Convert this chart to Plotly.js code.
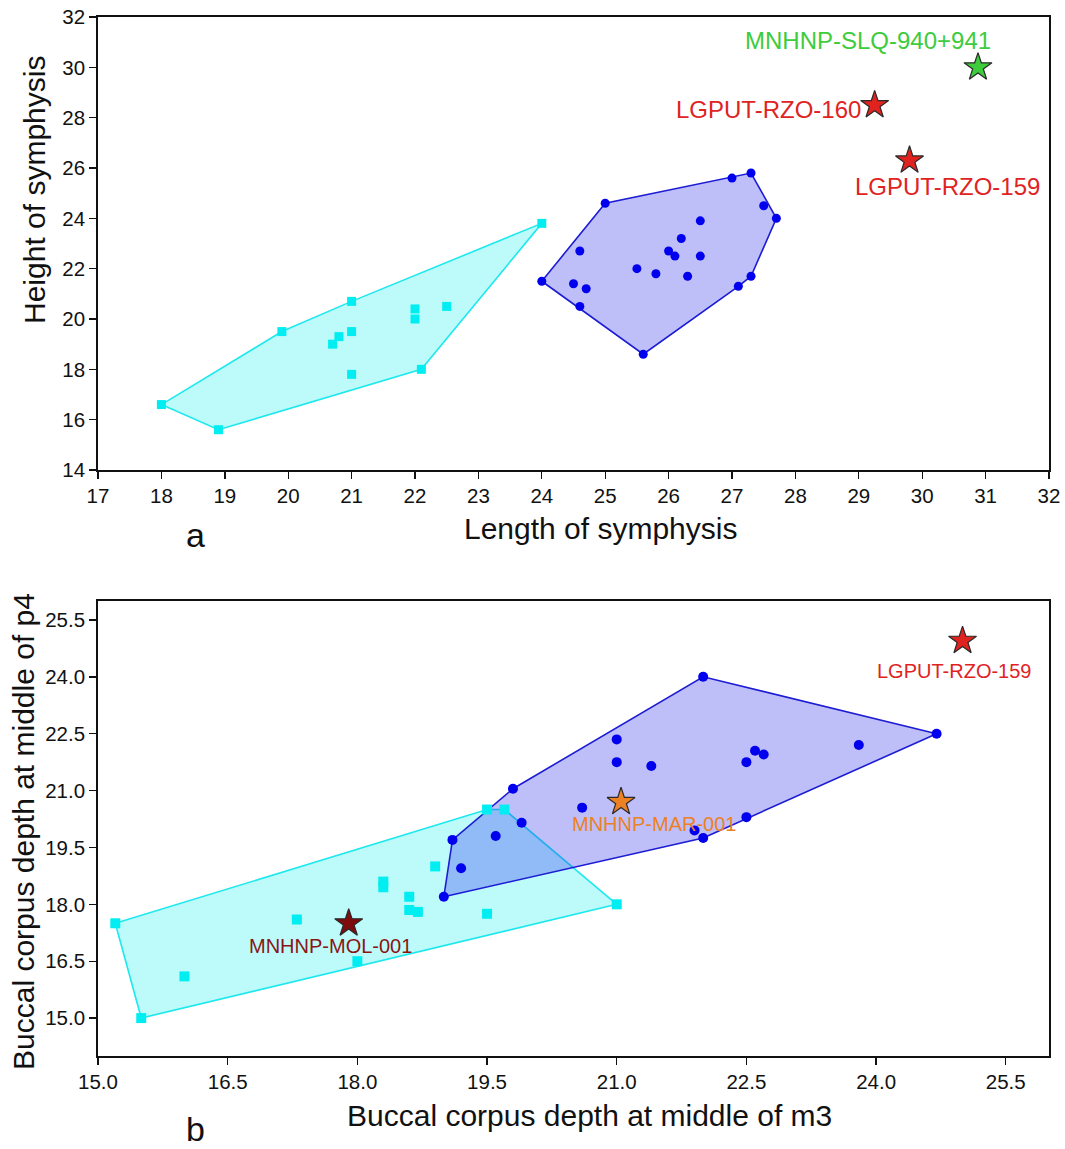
<!DOCTYPE html>
<html><head><meta charset="utf-8">
<script src="https://cdn.plot.ly/plotly-3.0.1.min.js"></script>
<style>html,body{margin:0;padding:0;background:#fff}#chart{width:1065px;height:1149px}</style>
</head><body><div id="chart"></div>
<script>
// ---- Panel a: symphysis ----
const aCyanX = [24.0, 21.0, 19.9, 22.0, 22.0, 22.5, 20.8, 20.7, 21.0, 21.0, 22.1, 18.0, 18.9];
const aCyanY = [23.8, 20.7, 19.5, 20.4, 20.0, 20.5, 19.3, 19.0, 19.5, 17.8, 18.0, 16.6, 15.6];
const aBlueX = [24.0, 25.0, 27.0, 27.3, 27.5, 27.7, 27.3, 27.1, 25.6, 24.6, 24.6, 24.5, 24.7, 25.5, 25.8, 26.0, 26.1, 26.2, 26.5, 26.5, 26.3];
const aBlueY = [21.5, 24.6, 25.6, 25.8, 24.5, 24.0, 21.7, 21.3, 18.6, 20.5, 22.7, 21.4, 21.2, 22.0, 21.8, 22.7, 22.5, 23.2, 23.9, 22.5, 21.7];
const aStarNames = ["MNHNP-SLQ-940+941", "LGPUT-RZO-160", "LGPUT-RZO-159"];
const aStarX = [30.88, 29.25, 29.8];
const aStarY = [30.0, 28.5, 26.3];
const aXTicks = [17,18,19,20,21,22,23,24,25,26,27,28,29,30,31,32];
const aYTicks = [14,16,18,20,22,24,26,28,30,32];

// ---- Panel b: buccal corpus depth ----
const bCyanX = [15.2, 15.5, 16.0, 17.3, 18.0, 18.3, 18.3, 19.5, 19.7, 18.9, 18.6, 18.6, 18.7, 19.5, 21.0];
const bCyanY = [17.5, 15.0, 16.1, 17.6, 16.5, 18.6, 18.45, 20.5, 20.5, 19.0, 18.2, 17.85, 17.8, 17.75, 18.0];
const bBlueX = [19.0, 19.1, 19.2, 19.6, 19.8, 19.9, 20.6, 22.0, 24.7, 23.8, 22.6, 22.7, 22.5, 21.0, 21.0, 21.4, 22.5, 21.9, 22.0];
const bBlueY = [18.2, 19.7, 18.95, 19.8, 21.05, 20.15, 20.55, 24.0, 22.5, 22.2, 22.05, 21.95, 21.75, 22.35, 21.75, 21.65, 20.3, 19.95, 19.75];
const bStarNames = ["LGPUT-RZO-159", "MNHNP-MAR-001", "MNHNP-MOL-001"];
const bStarX = [25.0, 21.05, 17.9];
const bStarY = [24.95, 20.7, 17.5];
const bTicks = [15.0, 16.5, 18.0, 19.5, 21.0, 22.5, 24.0, 25.5];

// ---- styles ----
const FONT = "Liberation Sans, Arial, sans-serif";
const CYAN_LINE = "#1ee8ee", CYAN_MK = "#00eef2", CYAN_FILL = "rgba(0,240,240,0.26)";
const BLUE_LINE = "#1c1cd4", BLUE_MK = "#0000ee", BLUE_FILL = "rgba(40,40,235,0.30)";
const aStarColors = ["#3ccc3c", "#e0231f", "#e0231f"];
const aLabelColors = ["#3ccc3c", "#e0231f", "#e0231f"];
const bStarColors = ["#e0231f", "#ec8124", "#7d0d0d"];
const bLabelColors = ["#e0231f", "#ec8124", "#8b1414"];

function hull(xs, ys) {
  const p = xs.map((x, i) => [x, ys[i]]).sort((a, b) => a[0] - b[0] || a[1] - b[1]);
  const cross = (o, a, b) => (a[0]-o[0])*(b[1]-o[1]) - (a[1]-o[1])*(b[0]-o[0]);
  const lo = [], up = [];
  for (const q of p) { while (lo.length >= 2 && cross(lo[lo.length-2], lo[lo.length-1], q) <= 0) lo.pop(); lo.push(q); }
  for (let i = p.length-1; i >= 0; i--) { const q = p[i]; while (up.length >= 2 && cross(up[up.length-2], up[up.length-1], q) <= 0) up.pop(); up.push(q); }
  const h = lo.slice(0, -1).concat(up.slice(0, -1));
  h.push(h[0]);
  return {x: h.map(v => v[0]), y: h.map(v => v[1])};
}

function hullTrace(xs, ys, line, fill, xa, ya) {
  const h = hull(xs, ys);
  return {x: h.x, y: h.y, xaxis: xa, yaxis: ya, mode: "lines", fill: "toself", fillcolor: fill,
          line: {color: line, width: 1.6}, hoverinfo: "skip", showlegend: false};
}
function ptsTrace(xs, ys, color, symbol, size, xa, ya) {
  return {x: xs, y: ys, xaxis: xa, yaxis: ya, mode: "markers", showlegend: false,
          marker: {color: color, symbol: symbol, size: size, line: {width: 0}}};
}
function starTrace(xs, ys, colors, xa, ya) {
  return {x: xs, y: ys, xaxis: xa, yaxis: ya, mode: "markers", showlegend: false,
          marker: {color: colors, symbol: "star", size: 21, line: {color: "#2a2a2a", width: 1.2}}};
}

const data = [
  hullTrace(aCyanX, aCyanY, CYAN_LINE, CYAN_FILL, "x", "y"),
  hullTrace(aBlueX, aBlueY, BLUE_LINE, BLUE_FILL, "x", "y"),
  ptsTrace(aCyanX, aCyanY, CYAN_MK, "square", 9, "x", "y"),
  ptsTrace(aBlueX, aBlueY, BLUE_MK, "circle", 9, "x", "y"),
  starTrace(aStarX, aStarY, aStarColors, "x", "y"),
  hullTrace(bCyanX, bCyanY, CYAN_LINE, CYAN_FILL, "x2", "y2"),
  hullTrace(bBlueX, bBlueY, BLUE_LINE, BLUE_FILL, "x2", "y2"),
  ptsTrace(bCyanX, bCyanY, CYAN_MK, "square", 10, "x2", "y2"),
  ptsTrace(bBlueX, bBlueY, BLUE_MK, "circle", 10, "x2", "y2"),
  starTrace(bStarX, bStarY, bStarColors, "x2", "y2")
];

// pixel -> paper helpers (plot area: x 98..1049, y 17..1056)
const L = 98, R = 16, T = 17, B = 93, W = 1065, H = 1149;
const px = v => (v - L) / (W - L - R);
const py = v => (H - B - v) / (H - T - B);

const axBase = {showline: true, linecolor: "#111", linewidth: 1.8, mirror: true, ticks: "outside",
                ticklen: 7, tickwidth: 1.4, tickcolor: "#111", showgrid: false, zeroline: false,
                tickfont: {family: FONT, size: 20.5, color: "#111"}};

const annotations = [];
const titleFont = {family: FONT, size: 30, color: "#111"};
annotations.push({xref: "paper", yref: "paper", x: px(600), y: py(528), text: "Length of symphysis", showarrow: false, font: titleFont, xanchor: "center", yanchor: "middle"});
annotations.push({xref: "paper", yref: "paper", x: px(35), y: py(190), text: "Height of symphysis", textangle: -90, showarrow: false, font: titleFont, xanchor: "center", yanchor: "middle"});
annotations.push({xref: "paper", yref: "paper", x: px(589), y: py(1115), text: "Buccal corpus depth at middle of m3", showarrow: false, font: titleFont, xanchor: "center", yanchor: "middle"});
annotations.push({xref: "paper", yref: "paper", x: px(23), y: py(832), text: "Buccal corpus depth at middle of p4", textangle: -90, showarrow: false, font: titleFont, xanchor: "center", yanchor: "middle"});
annotations.push({xref: "paper", yref: "paper", x: px(195), y: py(535), text: "a", showarrow: false, font: {family: FONT, size: 34, color: "#111"}, xanchor: "center", yanchor: "middle"});
annotations.push({xref: "paper", yref: "paper", x: px(195), y: py(1129), text: "b", showarrow: false, font: {family: FONT, size: 34, color: "#111"}, xanchor: "center", yanchor: "middle"});

// point labels (panel a)
const aLab = [
  {yshift: 27, xanchor: "center", xshift: -110},
  {yshift: -4, xanchor: "right", xshift: -12},
  {yshift: -26, xanchor: "center", xshift: 38}
];
aStarNames.forEach((n, i) => annotations.push({xref: "x", yref: "y", x: aStarX[i], y: aStarY[i], text: n, showarrow: false,
  xanchor: aLab[i].xanchor, yanchor: "middle", xshift: aLab[i].xshift, yshift: aLab[i].yshift,
  font: {family: FONT, size: 24, color: aLabelColors[i]}}));
// point labels (panel b)
const bLab = [{xshift: -9, yshift: -30}, {xshift: 33, yshift: -22}, {xshift: -18, yshift: -23}];
bStarNames.forEach((n, i) => annotations.push({xref: "x2", yref: "y2", x: bStarX[i], y: bStarY[i], text: n, showarrow: false,
  xanchor: "center", yanchor: "middle", xshift: bLab[i].xshift, yshift: bLab[i].yshift,
  font: {family: FONT, size: 20, color: bLabelColors[i]}}));

const layout = {
  width: W, height: H, margin: {l: L, r: R, t: T, b: B}, paper_bgcolor: "#fff", plot_bgcolor: "#fff",
  showlegend: false,
  xaxis: Object.assign({}, axBase, {domain: [0, 1], range: [17, 32], tickvals: aXTicks, anchor: "y"}),
  yaxis: Object.assign({}, axBase, {domain: [py(470), 1], range: [14, 32], tickvals: aYTicks, anchor: "x"}),
  xaxis2: Object.assign({}, axBase, {domain: [0, 1], range: [15, 26], tickvals: bTicks, tickformat: ".1f", anchor: "y2"}),
  yaxis2: Object.assign({}, axBase, {domain: [0, py(601)], range: [14, 26], tickvals: bTicks, tickformat: ".1f", anchor: "x2"}),
  annotations: annotations
};

Plotly.newPlot("chart", data, layout, {staticPlot: true});
</script></body></html>
